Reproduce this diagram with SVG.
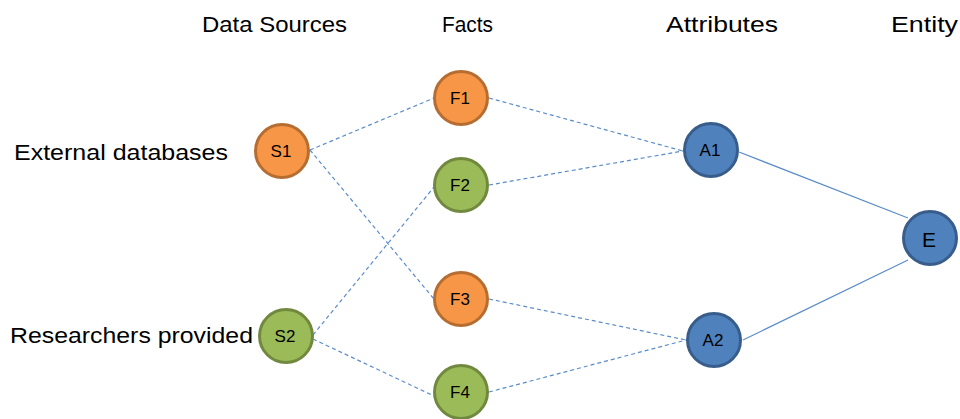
<svg xmlns="http://www.w3.org/2000/svg" width="960" height="419" viewBox="0 0 960 419">
  <style>
    .hdr { font-family: "Liberation Sans", Arial, sans-serif; font-size: 22px; fill: #000; }
    .lbl { font-family: "Liberation Sans", Arial, sans-serif; font-size: 22px; fill: #000; }
    .nt { font-family: "Liberation Sans", Arial, sans-serif; font-size: 17px; fill: #000; text-anchor: middle; dominant-baseline: central; }
    .orange { fill: #F79646; stroke: #B66D31; stroke-width: 3; }
    .green { fill: #9BBB59; stroke: #71893F; stroke-width: 3; }
    .blue { fill: #4F81BD; stroke: #385D8A; stroke-width: 3; }
    .dash { stroke: #5B8CC8; stroke-width: 1.2; stroke-dasharray: 4 3; fill: none; }
    .solid { stroke: #5B8CC8; stroke-width: 1.2; fill: none; }
  </style>
  <rect width="960" height="419" fill="#fff"/>

  <!-- column headings -->
  <text class="hdr" x="202" y="32" textLength="145" lengthAdjust="spacingAndGlyphs">Data Sources</text>
  <text class="hdr" x="442" y="32" textLength="51" lengthAdjust="spacingAndGlyphs">Facts</text>
  <text class="hdr" x="666" y="32" textLength="112" lengthAdjust="spacingAndGlyphs">Attributes</text>
  <text class="hdr" x="891" y="32" textLength="67" lengthAdjust="spacingAndGlyphs">Entity</text>

  <!-- source labels -->
  <text class="lbl" x="14" y="160" textLength="214" lengthAdjust="spacingAndGlyphs">External databases</text>
  <text class="lbl" x="10" y="343" textLength="243" lengthAdjust="spacingAndGlyphs">Researchers provided</text>

  <!-- connectors -->
  <g id="connectors">
    <line class="dash" x1="310" y1="150" x2="434" y2="98"/>
    <line class="dash" x1="310" y1="150" x2="434" y2="299"/>
    <line class="dash" x1="313" y1="335" x2="434" y2="187"/>
    <line class="dash" x1="313" y1="339" x2="434" y2="396"/>
    <line class="dash" x1="489" y1="98" x2="683" y2="151"/>
    <line class="dash" x1="489" y1="185" x2="683" y2="151"/>
    <line class="dash" x1="489" y1="299" x2="686" y2="340"/>
    <line class="dash" x1="489" y1="392" x2="686" y2="340"/>
    <line class="solid" x1="739" y1="152" x2="908" y2="218"/>
    <line class="solid" x1="743" y1="340" x2="908" y2="260"/>
  </g>

  <!-- nodes -->
  <g id="S1"><circle class="orange" cx="282" cy="151" r="26.5"/><text class="nt" x="281" y="151">S1</text></g>
  <g id="S2"><circle class="green" cx="286" cy="336" r="26.5"/><text class="nt" x="285" y="336">S2</text></g>
  <g id="F1"><circle class="orange" cx="461" cy="98" r="26.5"/><text class="nt" x="460" y="98">F1</text></g>
  <g id="F2"><circle class="green" cx="461" cy="185" r="26.5"/><text class="nt" x="460" y="185">F2</text></g>
  <g id="F3"><circle class="orange" cx="461" cy="299" r="26.5"/><text class="nt" x="460" y="299">F3</text></g>
  <g id="F4"><circle class="green" cx="461" cy="392" r="26.5"/><text class="nt" x="460" y="392">F4</text></g>
  <g id="A1"><circle class="blue" cx="711" cy="150" r="26.5"/><text class="nt" x="710" y="150">A1</text></g>
  <g id="A2"><circle class="blue" cx="714" cy="340" r="26.5"/><text class="nt" x="713" y="340">A2</text></g>
  <g id="E"><circle class="blue" cx="930" cy="238" r="26.5"/><text class="nt" x="929" y="239" style="font-size:21px">E</text></g>
</svg>
